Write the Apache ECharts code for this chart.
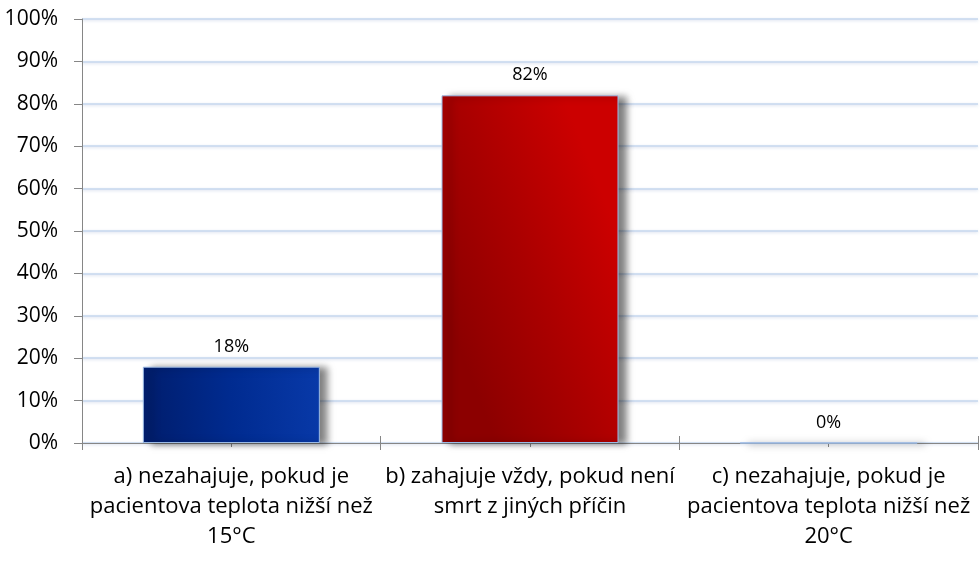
<!DOCTYPE html>
<html><head><meta charset="utf-8">
<script src="https://cdn.jsdelivr.net/npm/echarts@6/dist/echarts.min.js"></script>
<style>html,body{margin:0;padding:0;background:#fff}#c{width:980px;height:576px}</style>
</head><body><div id="c"></div>
<script>
const categories = [
  "a) nezahajuje, pokud je\npacientova teplota nižší než\n15°C",
  "b) zahajuje vždy, pokud není\nsmrt z jiných příčin",
  "c) nezahajuje, pokud je\npacientova teplota nižší než\n20°C"
];
const values = [18, 82, 0];

const FONT = 'Open Sans, Liberation Sans, Arial';
const gradBlue = new echarts.graphic.LinearGradient(0,0.6,1,0.4,[{offset:0,color:'#001d6c'},{offset:0.5,color:'#002b90'},{offset:1,color:'#0839a8'}]);
const gradRed = new echarts.graphic.LinearGradient(0,0.6,1,0.4,[{offset:0,color:'#8c0000'},{offset:0.5,color:'#ab0000'},{offset:1,color:'#cc0000'}]);
const colors = [gradBlue, gradRed, '#999'];

const chart = echarts.init(document.getElementById('c'));
const hiddenAxisBase = {type:'category',data:categories,position:'bottom',
  axisLine:{show:false},axisLabel:{show:false},splitLine:{show:false}};
chart.setOption({
  animation:false,
  grid:{left:82,right:2,top:19,bottom:133,containLabel:false},
  xAxis:[{type:'category',data:categories,
    axisLine:{lineStyle:{color:'#868686',width:1}},
    axisTick:{show:true,length:7,lineStyle:{color:'#868686'},alignWithLabel:false},
    axisLabel:{fontFamily:FONT,fontSize:22,color:'#000',lineHeight:30,margin:19,interval:0}
  },
  Object.assign({}, hiddenAxisBase, {axisTick:{show:true,length:4,alignWithLabel:true,lineStyle:{color:'#868686'}}}),
  Object.assign({}, hiddenAxisBase, {axisTick:{show:true,inside:true,length:7,alignWithLabel:false,lineStyle:{color:'#868686'}}})
  ],
  yAxis:{type:'value',min:0,max:100,interval:10,
    axisLine:{show:true,lineStyle:{color:'#868686'}},
    axisTick:{show:true,length:8,lineStyle:{color:'#868686'}},
    axisLabel:{fontFamily:FONT,fontSize:21,color:'#000',margin:24,formatter:v=>v+'%'},
    splitLine:{lineStyle:{color:'#c6d7ee',width:1.5,shadowColor:'rgba(120,150,200,0.35)',shadowBlur:3,shadowOffsetY:1}}
  },
  series:[{type:'bar',barWidth:177,xAxisIndex:0,
    data:values.map((v,i)=>({value:v,itemStyle:{color:colors[i]}})),
    itemStyle:{borderColor:'#9cbbe6',borderWidth:1,shadowColor:'rgba(0,0,0,0.5)',shadowBlur:7,shadowOffsetX:8,shadowOffsetY:1},
    label:{show:true,position:'top',distance:11,fontFamily:FONT,fontSize:18,color:'#000',formatter:p=>p.value+'%'}
  }]
});
</script></body></html>
